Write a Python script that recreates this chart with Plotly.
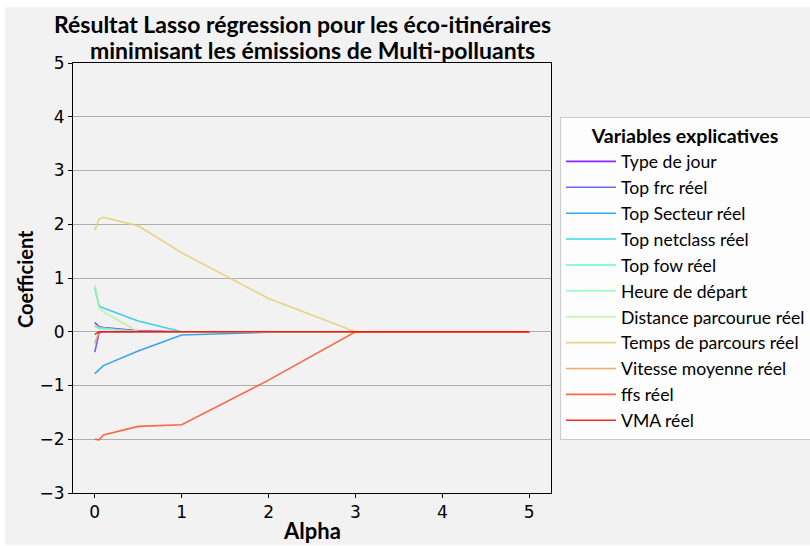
import plotly.graph_objects as go

# Lasso regularisation strengths
alphas = [0.001, 0.05, 0.1, 0.5, 1, 2, 3, 4, 5]

# Coefficient paths, one list per explanatory variable
type_de_jour = [0.17, 0.09, 0.08, 0.02, 0, 0, 0, 0, 0]
top_frc = [-0.38, -0.02, 0, 0, 0, 0, 0, 0, 0]
top_secteur = [-0.78, -0.70, -0.63, -0.36, -0.06, -0.01, 0, 0, 0]
top_netclass = [0.82, 0.48, 0.44, 0.20, 0, 0, 0, 0, 0]
top_fow = [0.10, 0.06, 0.05, 0.01, 0, 0, 0, 0, 0]
heure_depart = [0.13, 0.08, 0.07, 0.0, 0, 0, 0, 0, 0]
distance = [0.87, 0.45, 0.37, 0.0, 0, 0, 0, 0, 0]
temps = [1.89, 2.10, 2.13, 1.97, 1.47, 0.62, 0, 0, 0]
vitesse = [-0.22, 0, 0, 0, 0, 0, 0, 0, 0]
ffs = [-2.0, -2.01, -1.92, -1.76, -1.73, -0.90, 0, 0, 0]
vma = [-0.05, 0, 0, 0, 0, 0, 0, 0, 0]

names = ["Type de jour", "Top frc réel", "Top Secteur réel", "Top netclass réel",
         "Top fow réel", "Heure de départ", "Distance parcourue réel",
         "Temps de parcours réel", "Vitesse moyenne réel", "ffs réel", "VMA réel"]
paths = [type_de_jour, top_frc, top_secteur, top_netclass, top_fow, heure_depart,
         distance, temps, vitesse, ffs, vma]
# rainbow colormap sampled at 11 evenly spaced points
colors = ["#8000ff", "#4d4ffc", "#1996f3", "#1acee3", "#4df3ce", "#80ffb4",
          "#b3f396", "#e6ce74", "#ff964f", "#ff4f28", "#ff0000"]

title_lines = ["Résultat Lasso régression pour les éco-itinéraires",
               "minimisant les émissions de Multi-polluants"]

fig = go.Figure()
for name, ys, c in zip(names, paths, colors):
    fig.add_trace(go.Scatter(x=alphas, y=ys, mode="lines", name=name,
                             line=dict(color=c, width=1.6), opacity=0.85))

W, H = 810, 546
ml, mr, mt, mb = 73, 259, 63, 53
pw, ph = W - ml - mr, H - mt - mb


def px(x):
    return (x - ml) / pw


def py(y):
    return (H - mb - y) / ph


# light grey canvas inset from the white page edge
fig.add_shape(type="rect", xref="paper", yref="paper", layer="below",
              x0=px(5), x1=px(W), y0=py(545), y1=py(7),
              fillcolor="#f2f2f2", line=dict(width=0))

font_main = "Lato, Open Sans, sans-serif"
bold = dict(family=font_main, color="black", weight="bold")

for text, cx, cy in zip(title_lines, [302, 312], [24, 50]):
    fig.add_annotation(text=text, xref="paper", yref="paper", x=px(cx), y=py(cy),
                       xanchor="center", yanchor="middle", showarrow=False,
                       font=dict(size=23, **bold))

fig.add_annotation(text="Alpha", xref="paper", yref="paper", x=px(312), y=py(530),
                   xanchor="center", yanchor="middle", showarrow=False,
                   font=dict(size=22, **bold))
fig.add_annotation(text="Coefficient", xref="paper", yref="paper", x=px(25), y=py(279),
                   xanchor="center", yanchor="middle", showarrow=False, textangle=-90,
                   font=dict(size=20, **bold))

fig.update_layout(
    width=W, height=H,
    margin=dict(l=ml, r=mr, t=mt, b=mb, autoexpand=False),
    paper_bgcolor="white", plot_bgcolor="#f2f2f2",
    xaxis=dict(range=[-0.25, 5.25], tickvals=[0, 1, 2, 3, 4, 5], showgrid=False,
               zeroline=False, showline=True, linecolor="black", linewidth=1, mirror=True,
               ticks="outside", ticklen=4, tickcolor="black", automargin=False,
               tickfont=dict(family="DejaVu Sans", size=17, color="black")),
    yaxis=dict(range=[-3, 5], tickvals=list(range(-3, 6)), showgrid=True,
               gridcolor="#b0b0b0", gridwidth=1, zeroline=False,
               showline=True, linecolor="black", linewidth=1, mirror=True,
               ticks="outside", ticklen=4, tickcolor="black", automargin=False,
               tickfont=dict(family="DejaVu Sans", size=17, color="black")),
    legend=dict(x=px(560), xanchor="left", y=py(117), yanchor="top",
                bgcolor="rgba(255,255,255,0.85)", bordercolor="#cccccc", borderwidth=1,
                itemwidth=50,
                font=dict(family=font_main, size=17.6, color="black"),
                title=dict(text="Variables explicatives", side="top center",
                           font=dict(size=19.6, **bold))),
)

fig.write_html("out.html")
